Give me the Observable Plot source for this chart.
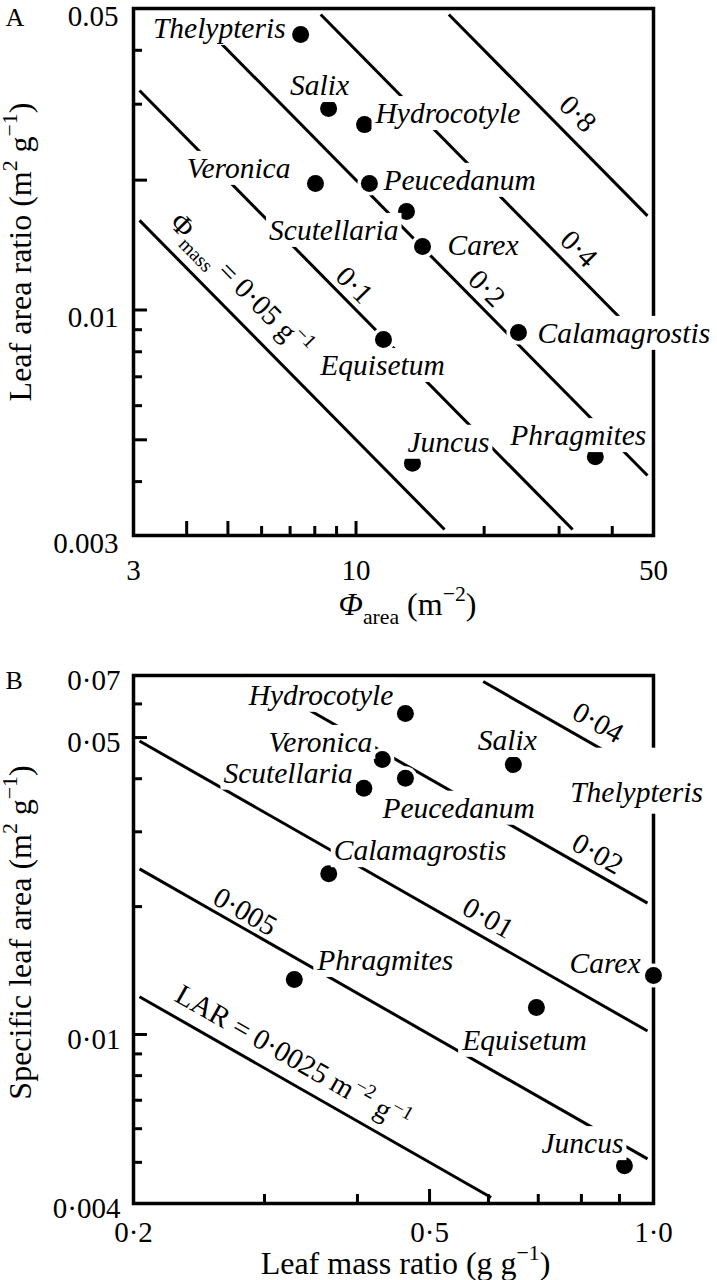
<!DOCTYPE html>
<html><head><meta charset="utf-8">
<script src="https://cdn.jsdelivr.net/npm/d3@7"></script>
<script src="https://cdn.jsdelivr.net/npm/@observablehq/plot@0.6"></script>
<style>body{margin:0;background:#fff}#chart svg{display:block}</style>
</head><body><div id="chart"></div>
<script>
// ---------- Panel A data ----------
const speciesA = ["Thelypteris","Salix","Hydrocotyle","Veronica","Peucedanum","Scutellaria","Carex","Calamagrostis","Equisetum","Juncus","Phragmites"];
const phiArea = [7.41, 8.62, 10.47, 8.03, 10.75, 13.14, 14.33, 24.08, 11.60, 13.57, 36.5];
const leafAreaRatio = [0.0435, 0.0293, 0.0269, 0.01965, 0.01965, 0.01692, 0.01404, 0.00887, 0.00854, 0.00441, 0.00457];
const phiMassLines = [0.05, 0.1, 0.2, 0.4, 0.8];
const phiMassLabels = ["@phiMass", "0·1", "0·2", "0·4", "0·8"];
const xTicksA = [3, 10, 50];
const xTickLabelsA = ["3", "10", "50"];
const yTicksA = [0.003, 0.01, 0.05];
const yTickLabelsA = ["0.003", "0.01", "0.05"];
const xMajorA = [4, 5, 10], xMinorA = [6, 7, 8, 9, 20, 30, 40];
const yMajorA = [0.005, 0.01, 0.02], yMinorA = [0.004, 0.006, 0.007, 0.008, 0.009, 0.03, 0.04];

// ---------- Panel B data ----------
const speciesB = ["Hydrocotyle","Veronica","Peucedanum","Scutellaria","Salix","Thelypteris","Calamagrostis","Phragmites","Carex","Equisetum","Juncus"];
const leafMassRatio = [0.464, 0.432, 0.464, 0.408, 0.648, 1.0, 0.366, 0.329, 1.0, 0.696, 0.914];
const specificLeafArea = [0.0570, 0.0444, 0.0401, 0.0380, 0.0432, 0.0435, 0.0239, 0.01347, 0.01377, 0.01158, 0.00491];
const larLines = [0.0025, 0.005, 0.01, 0.02, 0.04];
const larLabels = ["@lar", "0·005", "0·01", "0·02", "0·04"];
const xTicksB = [0.2, 0.5, 1.0];
const xTickLabelsB = ["0·2", "0·5", "1·0"];
const yTicksB = [0.004, 0.01, 0.05, 0.07];
const yTickLabelsB = ["0·004", "0·01", "0·05", "0·07"];
const xMajorB = [0.5], xMinorB = [0.3, 0.4, 0.6, 0.7, 0.8, 0.9];
const yMajorB = [0.01, 0.05], yMinorB = [0.005, 0.006, 0.007, 0.008, 0.009, 0.02, 0.03, 0.04, 0.06];

// ---------- layout (label placement, not data) ----------
const layoutA = {
  Thelypteris: ["end", -15, -6], Salix: ["middle", -9, -23], Hydrocotyle: ["start", 11, -11],
  Veronica: ["end", -25, -15], Peucedanum: ["start", 14, -3], Scutellaria: ["end", -8, 19],
  Carex: ["start", 25, -1], Calamagrostis: ["start", 19, 1], Equisetum: ["middle", -1, 26],
  Juncus: ["start", -5, -21], Phragmites: ["middle", -17, -21]
};
const layoutB = {
  Hydrocotyle: ["end", -12, -18], Veronica: ["end", -10, -17], Peucedanum: ["start", -23, 30],
  Scutellaria: ["end", -11, -15], Salix: ["middle", -6, -24], Thelypteris: ["middle", -17, 29],
  Calamagrostis: ["start", 5, -23], Phragmites: ["start", 23, -19], Carex: ["end", -13, -12],
  Equisetum: ["middle", -12, 33], Juncus: ["end", -1, -22]
};
const isoLabelPosA = [4.83, 9.31, 19.0, 31.0, 30.5], isoLabelOffA = [27, 16, 17, 19, 22];
const isoLabelPosB = [0.316, 0.276, 0.582, 0.818, 0.815], isoLabelOffB = [23, 15, 19, 18, 21];

const W = 717;
const FONT = "'Liberation Serif', 'Times New Roman', 'DejaVu Serif', serif";

function T(data, opts) {
  return Plot.text(data, {fontFamily: FONT, lineAnchor: "middle", textAnchor: "middle", ...opts});
}

function isoSegments(values, xDom, yDom, lx, ly, inset) {
  const x0 = xDom[0] * 10 ** (inset * lx), x1 = xDom[1] / 10 ** (inset * lx);
  const y0 = yDom[0] * 10 ** (inset * ly), y1 = yDom[1] / 10 ** (inset * ly);
  return values.map(c => {
    const xa = Math.max(x0, c / y1), xb = Math.min(x1, c / y0);
    return {c, x1: xa, y1: c / xa, x2: xb, y2: c / xb};
  });
}

function panel(cfg) {
  const {H, m, xDom, yDom, names, xs, ys, layout, iso, isoLabels, isoPos, isoOff,
    xTicks, xTickLabels, yTicks, yTickLabels, xMajor, xMinor, yMajor, yMinor,
    xTickDy, yTickDx, yTickDy, xTitle, xTitleDx, xTitleDy, yTitle, yTitleDy, letter, letterDy} = cfg;
  const plotW = W - m.left - m.right, plotH = H - m.top - m.bottom;
  const lx = Math.log10(xDom[1] / xDom[0]) / plotW;
  const ly = Math.log10(yDom[1] / yDom[0]) / plotH;
  const theta = Math.atan(lx / ly);
  const deg = theta * 180 / Math.PI;
  const segs = isoSegments(iso, xDom, yDom, lx, ly, 6);
  const pts = names.map((n, i) => ({name: n, x: xs[i], y: ys[i]}));

  const marks = [
    Plot.frame({stroke: "black", strokeWidth: 3.5}),
    Plot.ruleX(xMinor, {x: d => d, insetTop: plotH - 9, strokeWidth: 3}),
    Plot.ruleX(xMajor, {x: d => d, insetTop: plotH - 14, strokeWidth: 3}),
    Plot.ruleY(yMinor, {y: d => d, insetRight: plotW - 9, strokeWidth: 3}),
    Plot.ruleY(yMajor, {y: d => d, insetRight: plotW - 14, strokeWidth: 3}),
    Plot.link(segs, {x1: "x1", y1: "y1", x2: "x2", y2: "y2", stroke: "black", strokeWidth: 3}),
    Plot.dot(pts, {x: "x", y: "y", r: 12, fill: "white", stroke: null}),
    Plot.dot(pts, {x: "x", y: "y", r: 8.5, fill: "black", stroke: null}),
    T(xTicks, {x: d => d, frameAnchor: "bottom", dy: xTickDy, text: (d, i) => xTickLabels[i], fontSize: 29}),
    T(yTicks, {y: d => d, frameAnchor: "left", dx: yTickDx, dy: yTickDy, textAnchor: "end", text: (d, i) => yTickLabels[i], fontSize: 29}),
    T([xTitle], {frameAnchor: "bottom", dx: xTitleDx, dy: xTitleDy, fontSize: 32}),
    T([yTitle], {frameAnchor: "left", dx: -(m.left - 20), dy: yTitleDy, rotate: -90, fontSize: 32}),
    T([letter], {frameAnchor: "top-left", dx: -(m.left - 5), dy: letterDy, textAnchor: "start", fontSize: 26}),
    ...iso.map((c, i) => T([{x: isoPos[i], y: c / isoPos[i], t: isoLabels[i]}], {
      x: "x", y: "y", text: "t", rotate: deg, fontSize: 29,
      dx: isoOff[i] * Math.sin(theta), dy: -isoOff[i] * Math.cos(theta)
    })),
    ...pts.map(p => {
      const [anchor, dx, dy] = layout[p.name];
      return T([p], {x: "x", y: "y", text: "name", textAnchor: anchor, dx, dy, fontSize: 29.5, fontStyle: "italic"});
    })
  ];

  return Plot.plot({
    width: W, height: H,
    marginTop: m.top, marginRight: m.right, marginBottom: m.bottom, marginLeft: m.left,
    x: {type: "log", domain: xDom, axis: null},
    y: {type: "log", domain: yDom, axis: null},
    style: `font-family: ${FONT}; background: white; color: black; overflow: visible;`,
    marks
  });
}

const rich = {
  "@phiMass": [["Φ", ""], ["mass", "sub"], [" = 0·05 g", ""], ["−1", "sup"]],
  "@lar": [["LAR = 0·0025 m", ""], ["−2", "sup"], [" g", ""], ["−1", "sup"]],
  "@xlabA": [["Φ", "i"], ["area", "sub"], [" (m", ""], ["−2", "sup"], [")", ""]],
  "@ylabA": [["Leaf area ratio (m", ""], ["2", "sup"], [" g", ""], ["−1", "sup"], [")", ""]],
  "@xlabB": [["Leaf mass ratio (g g", ""], ["−1", "sup"], [")", ""]],
  "@ylabB": [["Specific leaf area (m", ""], ["2", "sup"], [" g", ""], ["−1", "sup"], [")", ""]]
};
const NS = "http://www.w3.org/2000/svg";

function finalize(svg, names, pads) {
  document.getElementById("chart").appendChild(svg);
  svg.querySelectorAll("text").forEach(t => {
    const spec = rich[t.textContent];
    if (!spec) return;
    const fs = parseFloat(getComputedStyle(t).fontSize);
    t.textContent = "";
    let shift = 0;
    for (const [s, k] of spec) {
      const ts = document.createElementNS(NS, "tspan");
      const target = k === "sup" ? -0.42 * fs : k === "sub" ? 0.28 * fs : 0;
      if (target !== shift) ts.setAttribute("dy", target - shift);
      shift = target;
      if (k === "sup" || k === "sub") ts.setAttribute("font-size", 0.68 * fs);
      if (k === "i") ts.setAttribute("font-style", "italic");
      ts.textContent = s;
      t.appendChild(ts);
    }
  });
  const nameSet = new Set(names);
  svg.querySelectorAll("text").forEach(t => {
    if (!nameSet.has(t.textContent)) return;
    const bb = t.getBBox();
    const p = pads[t.textContent] || [3, 3, 1, 1];
    const r = document.createElementNS(NS, "rect");
    r.setAttribute("x", bb.x - p[0]);
    r.setAttribute("y", bb.y - p[2]);
    r.setAttribute("width", bb.width + p[0] + p[1]);
    r.setAttribute("height", bb.height + p[2] + p[3]);
    r.setAttribute("fill", "white");
    const tr = t.getAttribute("transform");
    if (tr) r.setAttribute("transform", tr);
    t.parentNode.insertBefore(r, t);
  });
}

const svgA = panel({
  H: 640, m: {top: 8, right: 64, bottom: 105, left: 133},
  xDom: [3, 50], yDom: [0.003, 0.05],
  names: speciesA, xs: phiArea, ys: leafAreaRatio, layout: layoutA,
  iso: phiMassLines, isoLabels: phiMassLabels, isoPos: isoLabelPosA, isoOff: isoLabelOffA,
  xTicks: xTicksA, xTickLabels: xTickLabelsA, yTicks: yTicksA, yTickLabels: yTickLabelsA,
  xMajor: xMajorA, xMinor: xMinorA, yMajor: yMajorA, yMinor: yMinorA,
  xTickDy: 35, yTickDx: -15, yTickDy: 8,
  xTitle: "@xlabA", xTitleDx: 14, xTitleDy: 69, yTitle: "@ylabA", yTitleDy: -20,
  letter: "A", letterDy: 9
});
finalize(svgA, speciesA, {});

const svgB = panel({
  H: 640, m: {top: 35, right: 64, bottom: 77, left: 133},
  xDom: [0.2, 1.0], yDom: [0.004, 0.07],
  names: speciesB, xs: leafMassRatio, ys: specificLeafArea, layout: layoutB,
  iso: larLines, isoLabels: larLabels, isoPos: isoLabelPosB, isoOff: isoLabelOffB,
  xTicks: xTicksB, xTickLabels: xTickLabelsB, yTicks: yTicksB, yTickLabels: yTickLabelsB,
  xMajor: xMajorB, xMinor: xMinorB, yMajor: yMajorB, yMinor: yMinorB,
  xTickDy: 29, yTickDx: -13, yTickDy: 5,
  xTitle: "@xlabB", xTitleDx: 12, xTitleDy: 60, yTitle: "@ylabB", yTitleDy: -7,
  letter: "B", letterDy: 5
});
finalize(svgB, speciesB, {Thelypteris: [3, 3, 28, 6]});
</script></body></html>
